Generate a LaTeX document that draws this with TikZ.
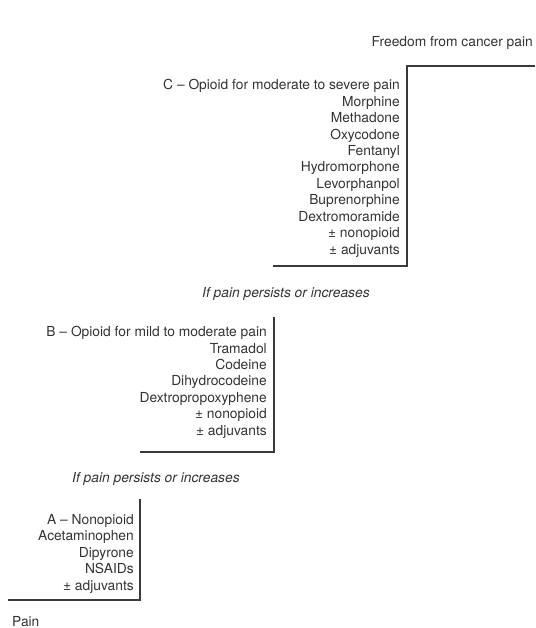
\documentclass[tikz,border=0pt]{standalone}
\usepackage{fontspec}
\setmainfont{TeX Gyre Heros}
\definecolor{stairline}{HTML}{3A3A3A}
\definecolor{stairtext}{HTML}{333333}
\tikzset{>=latex,
  stair/.style={draw=stairline,line width=1.1pt},
  druglist/.style={align=right,anchor=base east,inner sep=0pt,text=stairtext,font=\fontsize{13.8}{16.4}\selectfont},
  persist/.style={anchor=base west,inner sep=0pt,text=stairtext,font=\fontsize{13.8}{16}\selectfont\itshape},
  plain/.style={inner sep=0pt,text=stairtext,font=\fontsize{13.8}{16}\selectfont}}

\begin{document}
\begin{tikzpicture}[x=1pt,y=-1pt]
	\useasboundingbox (0,0) rectangle (535,628);
	% corners of the three steps
	\coordinate (c1) at (273,266); \coordinate (c2) at (407,266);
	\coordinate (c3) at (407,66);  \coordinate (c4) at (535,66);
	\coordinate (b1) at (140,452); \coordinate (b2) at (274,452);
	\coordinate (b3) at (274,317);
	\coordinate (a1) at (8,600);   \coordinate (a2) at (140,600);
	\coordinate (a3) at (140,499);
	\draw[stair] (c1) -- (c2) -- (c3) -- (c4);
	\draw[stair] (b1) -- (b2) -- (b3);
	\draw[stair] (a1) -- (a2) -- (a3);

	% lists are placed by the baseline of their last line
	\node[plain,anchor=base east] (goal) at (533,47) {Freedom from cancer pain};
	\node[druglist] (stepC) at (400,254) {C – Opioid for moderate to severe pain\\Morphine\\Methadone\\Oxycodone\\Fentanyl\\Hydromorphone\\Levorphanpol\\Buprenorphine\\Dextromoramide\\± nonopioid\\± adjuvants};
	\node[persist] (persistC) at (202,297) {If pain persists or increases};
	\node[druglist] (stepB) at (267,435) {B – Opioid for mild to moderate pain\\Tramadol\\Codeine\\Dihydrocodeine\\Dextropropoxyphene\\± nonopioid\\± adjuvants};
	\node[persist] (persistB) at (72,482) {If pain persists or increases};
	\node[druglist] (stepA) at (134,590) {A – Nonopioid\\Acetaminophen\\Dipyrone\\NSAIDs\\± adjuvants};
	\node[plain,anchor=base west] (start) at (12,626) {Pain};
\end{tikzpicture}
\end{document}
